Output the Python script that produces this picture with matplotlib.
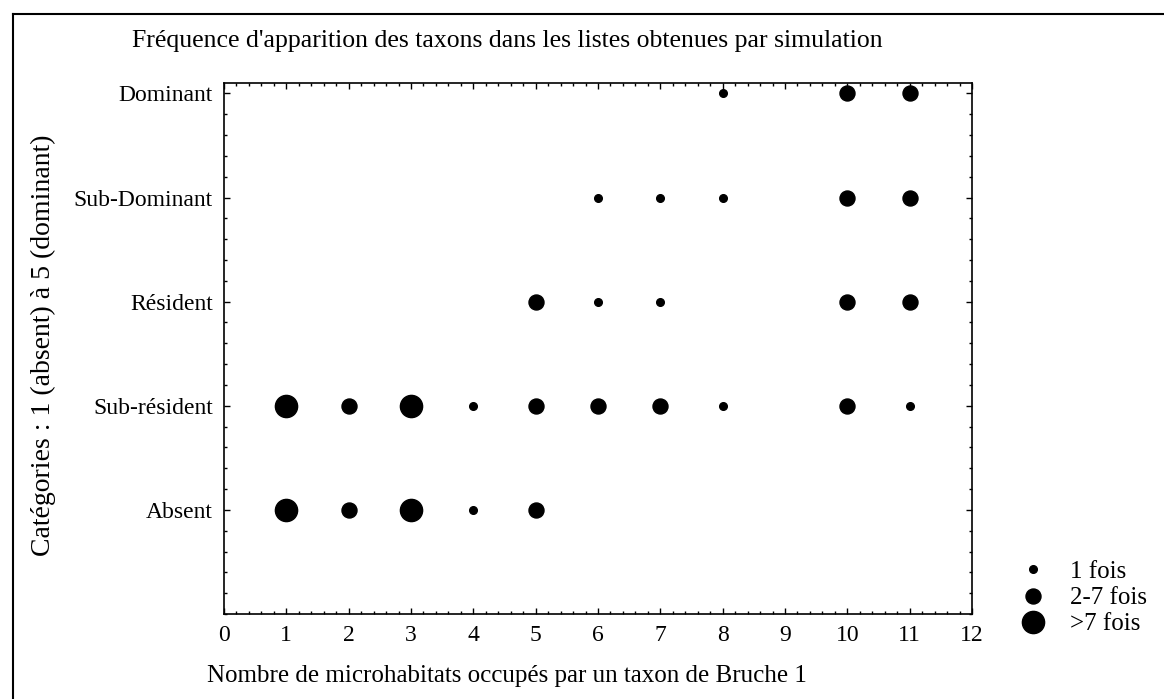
import matplotlib.pyplot as plt
from matplotlib.lines import Line2D
from matplotlib.ticker import MultipleLocator

plt.rcParams['font.family'] = ['Liberation Serif', 'DejaVu Serif']

# category levels 1 (absent) .. 5 (dominant)
categories = ['Absent', 'Sub-résident', 'Résident', 'Sub-Dominant', 'Dominant']

# number of microhabitats occupied, per category level
x_absent = [1, 2, 3, 4, 5]
x_subres = [1, 2, 3, 4, 5, 6, 7, 8, 10, 11]
x_resident = [5, 6, 7, 10, 11]
x_subdom = [6, 7, 8, 10, 11]
x_dominant = [8, 10, 11]

# frequency class: 1 = "1 fois", 2 = "2-7 fois", 3 = ">7 fois"
f_absent = [3, 2, 3, 1, 2]
f_subres = [3, 2, 3, 1, 2, 2, 2, 1, 2, 1]
f_resident = [2, 1, 1, 2, 2]
f_subdom = [1, 1, 1, 2, 2]
f_dominant = [1, 2, 2]

freq_labels = ['1 fois', '2-7 fois', '>7 fois']
marker_size = {1: 5.5, 2: 10.8, 3: 16}

fig = plt.figure(figsize=(11.64, 6.99), dpi=100)
ax = fig.add_axes([224 / 1164, 1 - 614 / 699, 748 / 1164, 531 / 699])

series = [(x_absent, f_absent), (x_subres, f_subres), (x_resident, f_resident),
          (x_subdom, f_subdom), (x_dominant, f_dominant)]
for level, (xs, fs) in enumerate(series, start=1):
    for x, f in zip(xs, fs):
        ax.plot(x, level, 'o', color='black', ms=marker_size[f], mec='black')

ax.set_xlim(0, 12)
ax.set_ylim(0, 5.1)
ax.set_xticks(range(13))
ax.set_yticks(range(1, 6))
ax.set_yticklabels(categories)
ax.xaxis.set_minor_locator(MultipleLocator(0.2))
ax.yaxis.set_minor_locator(MultipleLocator(0.2))
ax.tick_params(which='both', direction='in', top=True, right=True, labelsize=17,
               width=1)
ax.tick_params(which='major', length=4, pad=8)
ax.tick_params(which='minor', length=2.5)
for s in ax.spines.values():
    s.set_linewidth(1.2)

fig.text(132 / 1164, 1 - 41 / 699,
         "Fréquence d'apparition des taxons dans les listes obtenues par simulation",
         fontsize=18.5, ha='left', va='center')
fig.text(207 / 1164, 1 - 676 / 699,
         "Nombre de microhabitats occupés par un taxon de Bruche 1",
         fontsize=18, ha='left', va='center')
fig.text(43 / 1164, 1 - 345 / 699,
         "Catégories : 1 (absent) à 5 (dominant)",
         fontsize=20, rotation=90, ha='center', va='center')

handles = [Line2D([], [], ls='none', marker='o', color='black', ms=marker_size[k])
           for k in (1, 2, 3)]
fig.legend(handles, freq_labels, loc='upper left',
           bbox_to_anchor=(1008 / 1164, 1 - 548 / 699), frameon=False,
           fontsize=18, handlelength=1, handletextpad=1.0, labelspacing=0.15,
           borderpad=0)

# outer frame (only top and left edges fall inside the page)
fig.add_artist(Line2D([13 / 1164, 1], [1 - 14 / 699, 1 - 14 / 699],
                      color='black', lw=1.5, transform=fig.transFigure))
fig.add_artist(Line2D([13 / 1164, 13 / 1164], [0, 1 - 14 / 699],
                      color='black', lw=1.5, transform=fig.transFigure))

fig.savefig('out.png', dpi=100, facecolor='white')
